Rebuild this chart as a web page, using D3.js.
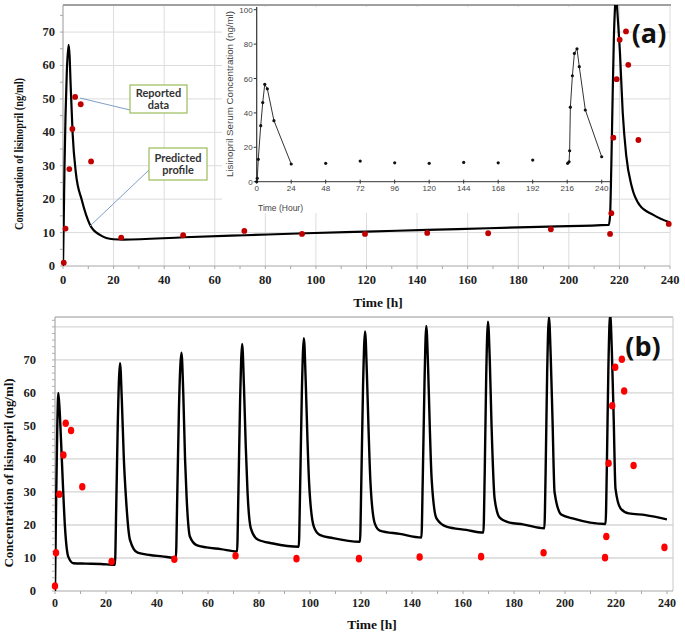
<!DOCTYPE html>
<html><head><meta charset="utf-8">
<script src="https://cdn.jsdelivr.net/npm/d3@7"></script>
<style>
html,body{margin:0;padding:0;background:#fff;}
svg{display:block;}
</style></head>
<body>
<svg id="chart" width="685" height="636"></svg>
<script>
// ---------------- DATA ----------------
// Panel (a): predicted profile (single dose at 0 and 216 h)
const aPredT = [0,0.3,0.6,1.0,1.5,2.2,2.6,3.0,3.8,5.1,7.4,10.7,14.6,19.9,24,48,72,96,120,144,168,192,215.8,216.3,216.8,217.3,217.8,218.3,218.7,219.2,220.2,221.3,222.7,224.9,228,233.4,240];
const aPredC = [0,14,30,45,58,66.2,63,54.7,39.7,27.8,19.8,12.3,9.3,8.0,7.9,8.6,9.2,9.8,10.3,10.8,11.3,11.8,12.3,15,30,50,68,78,82,76,64,46,33,23.7,18.2,15.3,13];
// Panel (a): reported data
const aObsT = [0.3,1,2.5,3.7,4.8,7,11.1,23,47.5,71.7,94.5,119.4,144,168.1,192.9,216.3,216.8,217.6,218.9,220.1,222.6,223.5,227.5,239.5];
const aObsC = [1,11.2,29,41,50.6,48.4,31.3,8.5,9.2,10.5,9.6,9.6,9.9,9.8,11,9.6,15.8,38.4,55.9,67.7,70.2,60.2,37.7,12.6];
// Inset (scanned original): first-dose profile, trough samples, last-dose profile
const insetFirstT = [0,0.4,1.1,2.8,4.2,5.6,7.4,12,24];
const insetFirstC = [0,2,13,32.6,46,56.6,54,35.5,10.3];
const insetTroughT = [48,72,96,120,144,168,192];
const insetTroughC = [10.7,12,11,10.7,11.2,11,12.6];
const insetLastT = [216.3,217.3,217.7,218.2,219.6,221,222.8,224.4,228.6,240];
const insetLastC = [10.7,11.6,18,43.3,61.6,74.6,77.3,66.9,41.7,14.5];
// Panel (b): predicted profile (daily dosing)
const bPredT = [0,0.4,0.9,1.3,1.8,2.4,3.0,3.9,5.2,7.2,12,18,23.5,
 24.0,24.6,25.5,26.2,27.0,27.8,29.4,32.4,37.2,42,47.4,
 47.9,48.6,49.6,50.3,51.0,51.6,52.9,55.5,59.4,65,71.4,
 71.9,72.6,73.4,74.1,74.8,75.5,76.8,79.5,85.5,95.6,
 96.1,96.8,97.6,98.3,99.0,99.7,101.5,103.8,109,119.6,
 120.1,120.8,121.6,122.3,123.0,123.7,125.4,127.4,135.2,143.7,
 144.2,144.9,145.6,146.3,147.0,147.7,149.6,153.5,161.3,168,
 168.5,169.1,169.8,170.5,171.2,172.4,174.4,178.3,183.5,191.9,
 192.4,193.0,193.7,194.4,195.1,195.9,198.5,203,215.9,
 216.4,217.0,217.7,218.4,219.1,219.8,221.8,225,231.6,240];
const bPredC = [0,25,50,60,55,45,34,19.5,10.4,8.4,8.3,8.2,7.9,
 25,50,69,58,40,28.6,15.5,11.6,10.9,10.5,10.0,
 27,55,72.2,60,40,28.6,16.5,13.9,13.2,12.7,12.0,
 29,58,74.8,62,44,30,19,15.6,14.4,13.4,
 30,60,76.6,64,46,32,19.5,17,16,14.9,
 32,62,78.6,66,48,33,20.5,18.3,17.3,16.2,
 33,63,80.3,68,49,34,22.0,19.5,18.5,17.7,
 35,65,81.6,70,50,28,22.2,20.7,20.2,19.0,
 36,66,83,71,52,30,23.2,22,20.3,
 37,67,84,72,52,31,25,23.5,23,21.7];
// Panel (b): reported data
const bObsT = [0,0.4,1.7,3.3,4.2,6.3,10.7,22.2,46.8,70.8,94.7,119.2,143,167.1,191.6,215.7,216.2,217.1,218.5,219.7,222.3,223.2,226.9,239];
const bObsC = [1.5,11.6,29.3,41.2,50.8,48.6,31.6,8.9,9.6,10.7,9.8,9.8,10.3,10.4,11.6,10.1,16.5,38.7,56.1,67.8,70.2,60.6,38,13.2];
// Tick labels
const xTicks = [0,20,40,60,80,100,120,140,160,180,200,220,240];
const yTicks = [0,10,20,30,40,50,60,70];
const bGrid = [10,20,30,40,50,60,70,80];
const insetXTicks = [0,24,48,72,96,120,144,168,192,216,240];
const insetYTicks = [0,20,40,60,80,100];
// Texts
const yTitle = "Concentration of lisinopril (ng/ml)";
const xTitle = "Time [h]";
const insetYTitle = "Lisinopril Serum Concentration (ng/ml)";
const insetXTitle = "Time (Hour)";
const noteReported = ["Reported","data"];
const notePredicted = ["Predicted","profile"];

// ---------------- DRAW ----------------
const svg = d3.select("#chart");
const serif = "'Liberation Serif','Times New Roman',serif";
const sans = "'Liberation Sans',Arial,sans-serif";
const zip = (t,c)=>t.map((v,i)=>[v,c[i]]);
const defs = svg.append("defs");

// ===== Panel (a) =====
const xa = d3.scaleLinear().domain([0,240]).range([63,670]);
const ya = d3.scaleLinear().domain([0,78.1]).range([266,5]);
const ga = svg.append("g");
defs.append("clipPath").attr("id","clipA").append("rect")
  .attr("x",63).attr("y",5).attr("width",607).attr("height",261);

ga.selectAll(".hg").data(yTicks.slice(1)).join("line")
  .attr("x1",63).attr("x2",670).attr("y1",d=>ya(d)).attr("y2",d=>ya(d))
  .attr("stroke","#dcdcdc").attr("stroke-width",1);
ga.selectAll(".vg").data(xTicks.slice(1)).join("line")
  .attr("x1",d=>xa(d)).attr("x2",d=>xa(d)).attr("y1",5).attr("y2",266)
  .attr("stroke","#dcdcdc").attr("stroke-width",1);

ga.append("line").attr("x1",63).attr("x2",63).attr("y1",5).attr("y2",266).attr("stroke","#a8a8a8").attr("stroke-width",1.2);
ga.append("line").attr("x1",63).attr("x2",670).attr("y1",266).attr("y2",266).attr("stroke","#a8a8a8").attr("stroke-width",1.2);
ga.append("line").attr("x1",63).attr("x2",671).attr("y1",5).attr("y2",5).attr("stroke","#a0a0a0").attr("stroke-width",2);
ga.selectAll(".yt").data(d3.range(0,79,5)).join("line")
  .attr("x1",60).attr("x2",63).attr("y1",d=>ya(d)).attr("y2",d=>ya(d)).attr("stroke","#a8a8a8");
ga.selectAll(".xt").data(d3.range(0,241,10)).join("line")
  .attr("x1",d=>xa(d)).attr("x2",d=>xa(d)).attr("y1",266).attr("y2",269).attr("stroke","#a8a8a8");

ga.selectAll(".ytl").data(yTicks).join("text")
  .attr("x",55).attr("y",d=>ya(d)+4).attr("text-anchor","end")
  .attr("font-family",serif).attr("font-weight","bold").attr("font-size",12.5).attr("fill","#222")
  .text(d=>d);
ga.selectAll(".xtl").data(xTicks).join("text")
  .attr("x",d=>xa(d)).attr("y",284).attr("text-anchor","middle")
  .attr("font-family",serif).attr("font-weight","bold").attr("font-size",12.5).attr("fill","#222")
  .text(d=>d);
ga.append("text").attr("x",378).attr("y",307).attr("text-anchor","middle")
  .attr("font-family",serif).attr("font-weight","bold").attr("font-size",13.5).attr("fill","#111").text(xTitle);
ga.append("text").attr("transform","translate(23,154) rotate(-90)").attr("text-anchor","middle")
  .attr("font-family",serif).attr("font-weight","bold").attr("font-size",12.5).attr("fill","#111")
  .attr("textLength",152).attr("lengthAdjust","spacingAndGlyphs").text(yTitle);

// ----- inset (white box) -----
const gi = svg.append("g");
defs.append("clipPath").attr("id","clipI").append("rect")
  .attr("x",215).attr("y",7).attr("width",400).attr("height",209);
gi.attr("clip-path","url(#clipI)");
gi.append("rect").attr("x",222).attr("y",6).attr("width",390).attr("height",207).attr("fill","#fff");
const xi = d3.scaleLinear().domain([0,240]).range([256.7,601.7]);
const yi = d3.scaleLinear().domain([0,100]).range([181.7,9.7]);
gi.append("line").attr("x1",xi(0)).attr("x2",xi(0)).attr("y1",yi(0)).attr("y2",4).attr("stroke","#333").attr("stroke-width",1.2);
gi.append("line").attr("x1",xi(0)).attr("x2",610).attr("y1",yi(0)).attr("y2",yi(0)).attr("stroke","#333").attr("stroke-width",1);
gi.selectAll(".iyt").data(insetYTicks).join("line")
  .attr("x1",xi(0)-3).attr("x2",xi(0)).attr("y1",d=>yi(d)).attr("y2",d=>yi(d)).attr("stroke","#333");
gi.selectAll(".ixt").data(insetXTicks).join("line")
  .attr("x1",d=>xi(d)).attr("x2",d=>xi(d)).attr("y1",yi(0)-2).attr("y2",yi(0)+2).attr("stroke","#333");
gi.selectAll(".iytl").data(insetYTicks).join("text")
  .attr("x",xi(0)-4).attr("y",d=>yi(d)+3).attr("text-anchor","end")
  .attr("font-family",sans).attr("font-size",8).attr("fill","#444").text(d=>d);
gi.selectAll(".ixtl").data(insetXTicks).join("text")
  .attr("x",d=>xi(d)).attr("y",191).attr("text-anchor","middle")
  .attr("font-family",sans).attr("font-size",8).attr("fill","#444").text(d=>d);
gi.append("text").attr("x",258).attr("y",211).attr("font-family",sans).attr("font-size",8.5).attr("fill","#444").text(insetXTitle);
gi.append("text").attr("transform","translate(233,94) rotate(-90)").attr("text-anchor","middle")
  .attr("font-family",sans).attr("font-size",8.5).attr("fill","#444")
  .attr("textLength",166).attr("lengthAdjust","spacingAndGlyphs").text(insetYTitle);
const lineI = d3.line().x(d=>xi(d[0])).y(d=>yi(d[1]));
[zip(insetFirstT,insetFirstC), zip(insetLastT,insetLastC)].forEach(seg=>{
  gi.append("path").attr("d",lineI(seg)).attr("fill","none").attr("stroke","#333").attr("stroke-width",1);
});
const allInset = zip(insetFirstT,insetFirstC).concat(zip(insetTroughT,insetTroughC), zip(insetLastT,insetLastC));
gi.selectAll(".idot").data(allInset).join("circle")
  .attr("cx",d=>xi(d[0])).attr("cy",d=>yi(d[1])).attr("r",1.6).attr("fill","#111");

// ----- curve (a) -----
const lineA = d3.line().x(d=>xa(d[0])).y(d=>ya(d[1])).curve(d3.curveMonotoneX);
svg.append("path").attr("clip-path","url(#clipA)").attr("d",lineA(zip(aPredT,aPredC)))
  .attr("fill","none").attr("stroke","#000").attr("stroke-width",2.2).attr("stroke-linejoin","round");
svg.selectAll(".adot").data(zip(aObsT,aObsC)).join("circle")
  .attr("cx",d=>xa(d[0])).attr("cy",d=>ya(d[1])).attr("r",2.9).attr("fill","#c00000");

// ----- annotations -----
const ann = svg.append("g");
ann.append("line").attr("x1",130).attr("y1",110).attr("x2",80).attr("y2",98).attr("stroke","#7f9fc8").attr("stroke-width",1);
ann.append("line").attr("x1",149).attr("y1",170).attr("x2",90).attr("y2",226).attr("stroke","#7f9fc8").attr("stroke-width",1);
ann.append("rect").attr("x",130).attr("y",85).attr("width",57).attr("height",28).attr("fill","#fff").attr("stroke","#9bbb59").attr("stroke-width",1.2);
ann.append("rect").attr("x",149).attr("y",148).attr("width",58).attr("height",32).attr("fill","#fff").attr("stroke","#9bbb59").attr("stroke-width",1.2);
ann.selectAll(".t1").data(noteReported).join("text")
  .attr("x",158.5).attr("y",(d,i)=>97+i*12).attr("text-anchor","middle")
  .attr("font-family","Lato,'Open Sans',sans-serif").attr("font-weight","bold").attr("font-size",11).attr("fill","#333").text(d=>d);
ann.selectAll(".t2").data(notePredicted).join("text")
  .attr("x",178).attr("y",(d,i)=>162+i*12).attr("text-anchor","middle")
  .attr("font-family","Lato,'Open Sans',sans-serif").attr("font-weight","bold").attr("font-size",11).attr("fill","#333").text(d=>d);
svg.append("text").attr("x",649).attr("y",43).attr("text-anchor","middle")
  .attr("font-family","'Open Sans',sans-serif").attr("font-weight","bold").attr("font-size",27).attr("fill","#111").text("(a)");

// ===== Panel (b) =====
const xb = d3.scaleLinear().domain([0,240]).range([55,667]);
const yb = d3.scaleLinear().domain([0,83]).range([591,317]);
const gb = svg.append("g");
defs.append("clipPath").attr("id","clipB").append("rect")
  .attr("x",55).attr("y",317).attr("width",612).attr("height",274);
gb.selectAll(".bhg").data(bGrid).join("line")
  .attr("x1",55).attr("x2",673).attr("y1",d=>yb(d)).attr("y2",d=>yb(d))
  .attr("stroke","#d6d6d6").attr("stroke-width",1.3);
gb.append("line").attr("x1",55).attr("x2",673).attr("y1",317).attr("y2",317).attr("stroke","#b8b8b8").attr("stroke-width",1.5);
gb.append("line").attr("x1",673).attr("x2",673).attr("y1",317).attr("y2",591).attr("stroke","#d0d0d0").attr("stroke-width",1.2);
gb.append("line").attr("x1",55).attr("x2",55).attr("y1",317).attr("y2",591).attr("stroke","#a8a8a8").attr("stroke-width",1.2);
gb.append("line").attr("x1",55).attr("x2",673).attr("y1",591).attr("y2",591).attr("stroke","#a8a8a8").attr("stroke-width",1.2);
gb.selectAll(".byt").data(d3.range(0,83,2)).join("line")
  .attr("x1",52).attr("x2",55).attr("y1",d=>yb(d)).attr("y2",d=>yb(d)).attr("stroke","#b0b0b0");
gb.selectAll(".bxt").data(d3.range(0,241,10)).join("line")
  .attr("x1",d=>xb(d)).attr("x2",d=>xb(d)).attr("y1",591).attr("y2",594).attr("stroke","#a8a8a8");
gb.selectAll(".bytl").data(yTicks).join("text")
  .attr("x",36).attr("y",d=>yb(d)+4).attr("text-anchor","end")
  .attr("font-family",serif).attr("font-weight","bold").attr("font-size",12.5).attr("fill","#222").text(d=>d);
gb.selectAll(".bxtl").data(xTicks).join("text")
  .attr("x",d=>xb(d)).attr("y",607).attr("text-anchor","middle")
  .attr("font-family",serif).attr("font-weight","bold").attr("font-size",12).attr("fill","#222").text(d=>d);
gb.append("text").attr("x",372).attr("y",629).attr("text-anchor","middle")
  .attr("font-family",serif).attr("font-weight","bold").attr("font-size",13.5).attr("fill","#111").text(xTitle);
gb.append("text").attr("transform","translate(12.5,473) rotate(-90)").attr("text-anchor","middle")
  .attr("font-family",serif).attr("font-weight","bold").attr("font-size",12.5).attr("fill","#111")
  .attr("textLength",189).attr("lengthAdjust","spacingAndGlyphs").text(yTitle);

const lineB = d3.line().x(d=>xb(d[0])).y(d=>yb(d[1])).curve(d3.curveMonotoneX);
svg.append("path").attr("clip-path","url(#clipB)").attr("d",lineB(zip(bPredT,bPredC)))
  .attr("fill","none").attr("stroke","#000").attr("stroke-width",2.4).attr("stroke-linejoin","round");
svg.selectAll(".bdot").data(zip(bObsT,bObsC)).join("ellipse")
  .attr("cx",d=>xb(d[0])).attr("cy",d=>yb(d[1])).attr("rx",3.2).attr("ry",3.8).attr("fill","#ff0000");
svg.append("text").attr("x",643).attr("y",356).attr("text-anchor","middle")
  .attr("font-family","'Open Sans',sans-serif").attr("font-weight","bold").attr("font-size",27).attr("fill","#111").text("(b)");
</script>
</body></html>
